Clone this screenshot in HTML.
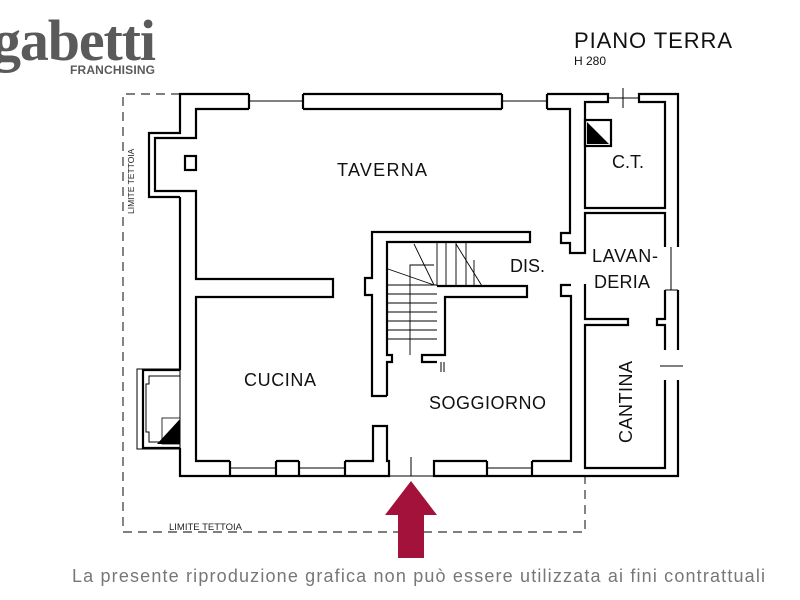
<!DOCTYPE html>
<html><head><meta charset="utf-8"><style>
body{margin:0;background:#fff;width:800px;height:600px;overflow:hidden}
svg{display:block}
</style></head><body>
<svg width="800" height="600" viewBox="0 0 800 600" xmlns="http://www.w3.org/2000/svg" font-family="Liberation Sans, sans-serif">
<!-- logo -->
<text x="-8" y="60" font-family="Liberation Serif, serif" font-weight="bold" font-size="58" fill="#5a5a5a" letter-spacing="-2" textLength="162">gabetti</text>
<text x="70" y="74" font-size="12" font-weight="bold" fill="#5a5a5a" textLength="85">FRANCHISING</text>
<text x="574" y="48" font-size="22" fill="#111" textLength="158">PIANO TERRA</text>
<text x="574" y="65" font-size="12" fill="#111">H 280</text>

<g stroke="#333" stroke-width="1.2" stroke-dasharray="9,6" fill="none">
<polyline points="180,94 123,94 123,532 585,532 585,476"/>
</g>
<text transform="translate(134,214) rotate(-90)" font-size="8.5" fill="#222">LIMITE TETTOIA</text>
<text x="169" y="530" font-size="9.5" fill="#222">LIMITE TETTOIA</text>

<g stroke="#000" stroke-width="2.2" fill="none" stroke-linejoin="miter">
<polyline points="180,197 149,197 149,133 180,133 180,94 249,94"/>
<line x1="303" y1="94" x2="502" y2="94"/>
<polyline points="547,94 608,94 608,102 585,102 585,208 665,208 665,102 639,102 639,94 678,94 678,247"/>
<polyline points="678,290 678,350"/>
<polyline points="678,380 678,476 434,476 434,461 487,461"/>
<polyline points="532,461 571,461 571,296 561,296 561,285 571,285"/>
<polyline points="585,284 585,319 628,319 628,325 585,325 585,468 665,468 665,380"/>
<polyline points="665,350 665,325 657,325 657,319 665,319 665,290"/>
<polyline points="665,247 665,213 585,213 585,253 570,253 570,243 561,243 561,233 570,233 570,109 547,109"/>
<line x1="502" y1="109" x2="303" y2="109"/>
<polyline points="249,109 196,109 196,138 155,138 155,191 196,191 196,279 333,279 333,297 196,297 196,461 230,461"/>
<polyline points="180,197 180,370"/>
<polyline points="180,448 180,476 389,476 389,461 387,461 387,426 373,426 373,461 345,461"/>
<line x1="276" y1="461" x2="299" y2="461"/>
<line x1="276" y1="461" x2="276" y2="476"/><line x1="299" y1="461" x2="299" y2="476"/>
<line x1="230" y1="461" x2="230" y2="476"/><line x1="345" y1="461" x2="345" y2="476"/>
<line x1="487" y1="461" x2="487" y2="476"/><line x1="532" y1="461" x2="532" y2="476"/>
<line x1="249" y1="94" x2="249" y2="109"/><line x1="303" y1="94" x2="303" y2="109"/>
<line x1="502" y1="94" x2="502" y2="109"/><line x1="547" y1="94" x2="547" y2="109"/>
<polyline points="387,396 372,396 372,295 365,295 365,278 372,278 372,232 530,232 530,242 387,242 387,355 392,355 392,362 387,362 387,396"/>
<polyline points="437,286 527,286 527,297 445,297 445,355 422,355 422,362 437,362"/>
<polyline points="180,370 143,370 143,448 180,448"/>
<rect x="585" y="120" width="26" height="26"/>
<rect x="185" y="156" width="11" height="14"/>
</g>
<g stroke="#000" stroke-width="1" fill="none">
<polyline points="180,376 149,376 149,384 146,384 146,432 149,432 149,442 180,442"/>
<rect x="137" y="369" width="43" height="80"/>
<line x1="302" y1="101" x2="249" y2="101"/><line x1="502" y1="101" x2="547" y2="101"/>
<line x1="230" y1="468" x2="276" y2="468"/><line x1="299" y1="468" x2="345" y2="468"/><line x1="487" y1="468" x2="532" y2="468"/>
<line x1="671" y1="247" x2="671" y2="290"/><line x1="665" y1="290" x2="678" y2="290"/>
<line x1="389" y1="476" x2="434" y2="476"/>
<line x1="411" y1="457" x2="411" y2="476"/>
<line x1="623" y1="88" x2="623" y2="108"/><line x1="608" y1="98" x2="639" y2="98"/>
<line x1="660" y1="366" x2="683" y2="366"/>
<line x1="441" y1="362" x2="441" y2="372"/><line x1="444" y1="362" x2="444" y2="372"/>
<g stroke-width="0.9">
<line x1="387" y1="285" x2="437" y2="285"/><line x1="387" y1="294" x2="437" y2="294"/><line x1="387" y1="303" x2="437" y2="303"/><line x1="387" y1="312" x2="437" y2="312"/><line x1="387" y1="321" x2="437" y2="321"/><line x1="387" y1="330" x2="437" y2="330"/><line x1="387" y1="339" x2="437" y2="339"/>
<line x1="437" y1="242" x2="437" y2="286"/><line x1="446" y1="242" x2="446" y2="286"/><line x1="456" y1="242" x2="456" y2="286"/><line x1="466" y1="242" x2="466" y2="286"/><line x1="474" y1="260" x2="474" y2="286"/>
<line x1="414" y1="244" x2="434" y2="285"/><line x1="388" y1="269" x2="434" y2="285"/><line x1="456" y1="244" x2="482" y2="286"/>
<polyline points="410,355 410,265 434,265"/>
</g>
</g>
<polygon points="587,122 609,144 587,144" fill="#000"/>
<rect x="162" y="418" width="18" height="26" fill="#fff" stroke="#000" stroke-width="0.8"/>
<polygon points="180,419 180,444 157,444" fill="#000"/>
<polygon points="385,515 411,481 437,515 424,515 424,558 398,558 398,515" fill="#a3123a"/>

<g font-size="18" fill="#111">
<text x="337" y="176" textLength="90">TAVERNA</text>
<text x="612" y="168">C.T.</text>
<text x="510" y="272">DIS.</text>
<text x="592" y="262" textLength="66">LAVAN-</text>
<text x="594" y="288" textLength="56">DERIA</text>
<text x="244" y="386" textLength="72">CUCINA</text>
<text x="429" y="409" textLength="117">SOGGIORNO</text>
<text transform="translate(632,443) rotate(-90)" textLength="82">CANTINA</text>
</g>
<text x="72" y="582" font-size="18" fill="#777" textLength="693">La presente riproduzione grafica non può essere utilizzata ai fini contrattuali</text>
</svg>
</body></html>
